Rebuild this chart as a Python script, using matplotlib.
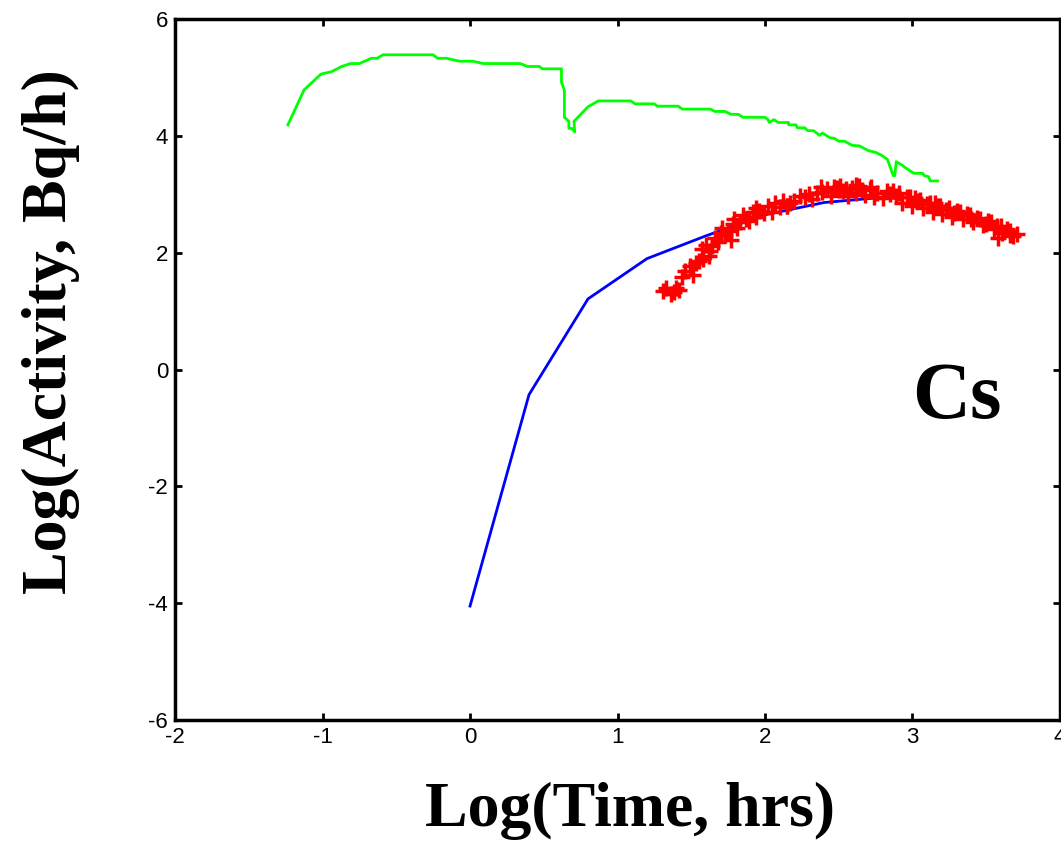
import numpy as np
import matplotlib
matplotlib.use('Agg')
import matplotlib.pyplot as plt

plt.rcParams['axes.unicode_minus'] = False

# Green curve (measured), log10 time vs log10 activity
green_x = [-1.235, -1.125, -1.01, -0.94, -0.87, -0.81, -0.75, -0.67, -0.63, -0.59,
           -0.25, -0.22, -0.16, -0.07, 0.02, 0.09, 0.34, 0.39, 0.47, 0.49,
           0.62, 0.62, 0.64, 0.64, 0.67, 0.67, 0.69, 0.71, 0.705, 0.80,
           0.87, 1.09, 1.12, 1.25, 1.27, 1.41, 1.44, 1.63, 1.66, 1.73,
           1.77, 1.82, 1.85, 2.00, 2.02, 2.03, 2.06, 2.09, 2.16, 2.16,
           2.21, 2.22, 2.27, 2.29, 2.33, 2.37, 2.39, 2.44, 2.47, 2.50,
           2.54, 2.59, 2.64, 2.70, 2.75, 2.79, 2.83, 2.87, 2.88, 2.89,
           2.93, 2.95, 2.98, 3.01, 3.07, 3.08, 3.11, 3.12, 3.17]
green_y = [4.19, 4.79, 5.06, 5.10, 5.19, 5.24, 5.24, 5.33, 5.33, 5.39,
           5.39, 5.33, 5.33, 5.28, 5.28, 5.24, 5.24, 5.19, 5.19, 5.15,
           5.15, 4.92, 4.78, 4.32, 4.25, 4.13, 4.13, 4.07, 4.25, 4.50,
           4.60, 4.60, 4.55, 4.55, 4.51, 4.51, 4.46, 4.46, 4.42, 4.42,
           4.37, 4.37, 4.32, 4.32, 4.28, 4.23, 4.28, 4.23, 4.23, 4.19,
           4.19, 4.14, 4.14, 4.09, 4.09, 4.01, 4.05, 3.97, 3.96, 3.91,
           3.91, 3.84, 3.83, 3.75, 3.72, 3.67, 3.60, 3.32, 3.32, 3.56,
           3.50, 3.46, 3.41, 3.36, 3.36, 3.32, 3.30, 3.23, 3.23]

# Blue curve (model)
blue_x = [0.0, 0.4, 0.8, 1.2, 1.6, 2.0, 2.4, 2.8, 2.9]
blue_y = [-4.05, -0.43, 1.21, 1.90, 2.29, 2.65, 2.86, 2.95, 2.93]

# Red crosses (data points)
red_x = [1.31, 1.36, 1.40, 1.42, 1.33, 1.38, 1.46, 1.49, 1.53, 1.51,
         1.44, 1.57, 1.60, 1.63, 1.58, 1.55, 1.66, 1.70, 1.68, 1.64,
         1.75, 1.78, 1.73, 1.71, 1.83, 1.81, 1.79, 1.87, 1.92, 1.89,
         1.85, 1.96, 2.02, 1.99, 1.94, 2.07, 2.12, 2.10, 2.05, 2.17,
         2.24, 2.20, 2.15, 2.30, 2.35, 2.32, 2.27, 2.42, 2.49, 2.45,
         2.39, 2.53, 2.59, 2.56, 2.51, 2.64, 2.71, 2.68, 2.62, 2.76,
         2.83, 2.80, 2.74, 2.89, 2.96, 2.93, 2.87, 3.03, 3.00, 2.98,
         3.10, 3.07, 3.05, 3.17, 3.14, 3.12, 3.23, 3.20, 3.19, 3.30,
         3.27, 3.25, 3.37, 3.34, 3.32, 3.44, 3.41, 3.39, 3.51, 3.48,
         3.46, 3.57, 3.55, 3.53, 3.64, 3.61, 3.60, 3.71, 3.68, 3.66,
         2.38, 2.62, 2.50, 1.94, 2.15, 3.58, 3.66, 2.47, 2.55, 2.66,
         2.72, 2.85, 2.91, 3.02, 3.15, 3.28, 3.40, 3.50, 1.62, 1.77]
red_y = [1.34, 1.29, 1.40, 1.37, 1.40, 1.33, 1.69, 1.77, 1.83, 1.62,
         1.58, 2.06, 2.14, 2.03, 1.90, 1.86, 2.26, 2.34, 2.18, 2.12,
         2.38, 2.49, 2.30, 2.42, 2.52, 2.42, 2.58, 2.57, 2.69, 2.55,
         2.65, 2.72, 2.80, 2.68, 2.77, 2.86, 2.89, 2.78, 2.70, 2.86,
         2.98, 2.88, 2.80, 3.00, 3.03, 2.92, 2.96, 3.09, 3.11, 2.98,
         3.04, 3.06, 3.11, 2.97, 3.15, 3.14, 3.09, 2.99, 3.03, 3.03,
         3.06, 2.94, 2.96, 2.98, 2.95, 2.86, 3.05, 2.89, 2.80, 2.96,
         2.83, 2.76, 2.90, 2.80, 2.70, 2.86, 2.74, 2.66, 2.80, 2.72,
         2.62, 2.76, 2.66, 2.58, 2.70, 2.60, 2.52, 2.64, 2.55, 2.47,
         2.58, 2.46, 2.40, 2.52, 2.40, 2.33, 2.45, 2.32, 2.28, 2.38,
         3.13, 3.16, 3.07, 2.62, 2.80, 2.25, 2.30, 3.13, 3.10, 3.08,
         3.12, 3.00, 3.02, 2.94, 2.85, 2.68, 2.58, 2.50, 1.95, 2.22]

fig = plt.figure(figsize=(10.61, 8.52), dpi=100)
ax = fig.add_axes([0.165, 0.155, 0.834, 0.8225])

ax.plot(green_x, green_y, color='#00ff00', lw=2)
ax.plot(blue_x, blue_y, color='#0000ff', lw=2)
ax.plot(red_x, red_y, '+', color='#ff0000', ms=11, mew=2.5)

ax.set_xlim(-2, 4)
ax.set_ylim(-6, 6)
ax.set_xticks(range(-2, 5))
ax.set_yticks(range(-6, 7, 2))
ax.tick_params(direction='in', length=5, width=2, labelsize=16, pad=5,
               top=True, right=True)
for lbl in ax.get_xticklabels() + ax.get_yticklabels():
    lbl.set_family('Liberation Sans')
for sp in ax.spines.values():
    sp.set_linewidth(2.5)

serif = {'family': 'Liberation Serif', 'weight': 'bold', 'size': 46}
ax.set_xlabel('Log(Time, hrs)', fontdict=serif)
ax.set_ylabel('Log(Activity, Bq/h)', fontdict=serif)
ax.xaxis.set_label_coords(0.514, -0.089)
ax.yaxis.set_label_coords(-0.107, 0.554)
ax.text(3.30, -0.50, 'Cs', fontdict={'family': 'Liberation Serif', 'weight': 'bold', 'size': 58},
        ha='center', va='center')

fig.savefig('out.png', dpi=100)
